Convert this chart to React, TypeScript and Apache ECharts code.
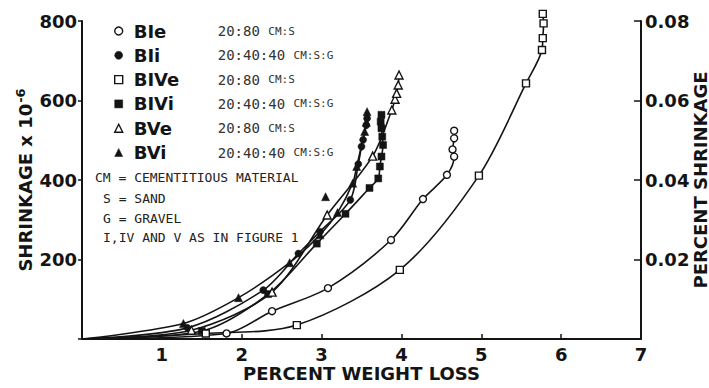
import React, { useEffect, useRef } from 'react';
import * as echarts from 'echarts';

// ---- data (percent weight loss, shrinkage x 10^-6) ----
const origin: [number, number] = [0, 0];
const bIe: [number, number][] = [
  [1.81, 14], [2.38, 70], [3.08, 128], [3.87, 249], [4.27, 352], [4.57, 413],
  [4.66, 459], [4.64, 477], [4.66, 505], [4.66, 524],
];
const bIi: [number, number][] = [
  [1.32, 28], [2.27, 123], [2.71, 215], [2.98, 270], [3.36, 350], [3.46, 440],
  [3.5, 484], [3.52, 501], [3.56, 538], [3.57, 555],
];
const bIVe: [number, number][] = [
  [1.55, 14], [2.69, 35], [3.98, 174], [4.97, 411], [5.56, 643], [5.76, 727],
  [5.77, 757], [5.78, 794], [5.77, 818],
];
const bIVi: [number, number][] = [
  [1.5, 20], [2.33, 113], [2.94, 240], [3.3, 315], [3.6, 380], [3.71, 404],
  [3.73, 434], [3.75, 459], [3.77, 488], [3.76, 509], [3.75, 530], [3.74, 547], [3.75, 564],
];
const bVe: [number, number][] = [
  [1.37, 22], [2.38, 118], [3.07, 312], [3.64, 460], [3.88, 576], [3.92, 603],
  [3.94, 618], [3.96, 639], [3.97, 664],
];
const bVi: [number, number][] = [
  [1.27, 39], [1.96, 104], [2.6, 192], [2.98, 262], [3.2, 318], [3.39, 392],
  [3.44, 434], [3.54, 522], [3.56, 545], [3.57, 572],
];
const bViOutlier: [number, number][] = [[3.05, 358]];

const seriesNames = ['BIe', 'BIi', 'BIVe', 'BIVi', 'BVe', 'BVi'];
const mixRatios = ['20:80', '20:40:40', '20:80', '20:40:40', '20:80', '20:40:40'];
const mixParts = ['CM:S', 'CM:S:G', 'CM:S', 'CM:S:G', 'CM:S', 'CM:S:G'];
const seriesSymbols = ['circle', 'circle', 'rect', 'rect', 'triangle', 'triangle'];
const seriesHollow = [true, false, true, false, true, false];
const seriesData = [bIe, bIi, bIVe, bIVi, bVe, bVi];

const xTickMax = 7;
const leftMax = 800;
const rightMax = 0.08;

const notes = [
  'CM = CEMENTITIOUS MATERIAL',
  'S = SAND',
  'G = GRAVEL',
  'I,IV AND V AS IN FIGURE 1',
];

const INK = '#141414';
const SANS = '"DejaVu Sans", sans-serif';
const MONO = '"DejaVu Sans Mono", monospace';

function markStyle(hollow: boolean) {
  return hollow
    ? { color: '#fff', borderColor: INK, borderWidth: 1.4, opacity: 1 }
    : { color: INK, borderColor: INK, borderWidth: 0.5, opacity: 1 };
}

export default function App() {
  const ref = useRef<HTMLDivElement>(null);
  useEffect(() => {
    if (!ref.current) return;
    const chart = echarts.init(ref.current, undefined, { renderer: 'svg' });

    const lineSeries = seriesNames.map((name, i) => ({
      name,
      type: 'line',
      yAxisIndex: 0,
      smooth: 0.3,
      clip: false,
      symbol: seriesSymbols[i],
      symbolSize: seriesSymbols[i] === 'triangle' ? 8 : 7,
      showAllSymbol: true,
      lineStyle: { color: INK, width: 1.6 },
      itemStyle: markStyle(seriesHollow[i]),
      z: seriesHollow[i] ? 3 : 2,
      data: [
        { value: origin, symbol: 'none' },
        ...seriesData[i].map((p) => ({ value: p })),
      ],
    }));

    const option: any = {
      animation: false,
      backgroundColor: '#fff',
      grid: { left: 82, right: 68, top: 21, bottom: 49, containLabel: false, outerBoundsMode: 'none' },
      xAxis: {
        type: 'value',
        min: 0,
        max: xTickMax,
        interval: 1,
        name: 'PERCENT WEIGHT LOSS',
        nameLocation: 'middle',
        nameMoveOverlap: false,
        nameGap: 25,
        nameTextStyle: { fontFamily: SANS, fontWeight: 'bold', fontSize: 18, color: INK },
        axisLine: { onZero: false, lineStyle: { color: INK, width: 2 } },
        axisTick: { inside: true, length: 5, lineStyle: { color: INK, width: 1.5 } },
        axisLabel: {
          margin: 6,
          fontFamily: SANS,
          fontWeight: 'bold',
          fontSize: 18,
          color: INK,
          formatter: (v: number) => (v === 0 ? '' : String(v)),
        },
        splitLine: { show: false },
      },
      yAxis: [
        {
          type: 'value',
          position: 'left',
          min: 0,
          max: leftMax,
          interval: 200,
          name: 'SHRINKAGE x 10{sup|-6}',
          nameLocation: 'middle',
          nameMoveOverlap: false,
          nameRotate: 90,
          nameGap: 46,
          nameTextStyle: {
            fontFamily: SANS,
            fontWeight: 'bold',
            fontSize: 18,
            color: INK,
            rich: {
              sup: { fontFamily: SANS, fontWeight: 'bold', fontSize: 13, color: INK, padding: [0, 0, 9, 1] },
            },
          },
          axisLine: { show: true, onZero: false, lineStyle: { color: INK, width: 2 } },
          axisTick: { show: true, inside: false, length: 4, lineStyle: { color: INK, width: 1.5 } },
          axisLabel: {
            margin: 5,
            fontFamily: SANS,
            fontWeight: 'bold',
            fontSize: 18,
            color: INK,
            formatter: (v: number) => (v === 0 ? '' : String(v)),
          },
          splitLine: { show: false },
        },
        {
          type: 'value',
          position: 'right',
          min: 0,
          max: rightMax,
          interval: 0.02,
          name: 'PERCENT SHRINKAGE',
          nameLocation: 'middle',
          nameMoveOverlap: false,
          nameRotate: 90,
          nameGap: 50,
          nameTextStyle: { fontFamily: SANS, fontWeight: 'bold', fontSize: 18, color: INK },
          axisLine: { show: true, onZero: false, lineStyle: { color: INK, width: 2 } },
          axisTick: { show: true, inside: true, length: 7, lineStyle: { color: INK, width: 1.5 } },
          axisLabel: {
            margin: 4,
            fontFamily: SANS,
            fontWeight: 'bold',
            fontSize: 18,
            color: INK,
            formatter: (v: number) => (v === 0 ? '' : v.toFixed(2)),
          },
          splitLine: { show: false },
        },
      ],
      legend: {
        orient: 'vertical',
        left: 109,
        top: 16,
        itemWidth: 8,
        itemHeight: 8,
        itemGap: 4.3,
        selectedMode: false,
        data: seriesNames.map((name, i) => ({
          name,
          icon: seriesSymbols[i],
          itemStyle: markStyle(seriesHollow[i]),
        })),
        formatter: (name: string) => {
          const i = seriesNames.indexOf(name);
          return `{a|${name}}{b|${mixRatios[i]} }{c|${mixParts[i]}}`;
        },
        textStyle: {
          lineHeight: 20,
          rich: {
            a: { fontFamily: SANS, fontWeight: 'bold', fontSize: 18, color: INK, width: 84, lineHeight: 20, padding: [0, 0, 0, 6] },
            b: { fontFamily: MONO, fontSize: 14, color: '#333', lineHeight: 20 },
            c: { fontFamily: MONO, fontSize: 11, color: '#333', lineHeight: 20 },
          },
        },
      },
      graphic: notes.map((t, i) => ({
        type: 'text',
        x: i === 0 ? 95 : 103,
        y: [177, 198, 218, 237][i],
        style: {
          text: t,
          font: `13px ${MONO}`,
          fill: '#222',
          verticalAlign: 'middle',
        },
      })),
      series: [
        ...lineSeries,
        {
          name: 'BVi',
          type: 'scatter',
          symbol: 'triangle',
          symbolSize: 8,
          itemStyle: markStyle(false),
          data: bViOutlier,
        },
      ],
    };
    chart.setOption(option);
    return () => chart.dispose();
  }, []);
  return <div ref={ref} style={{ width: 709, height: 388, position: 'absolute', left: 0, top: 0 }} />;
}
